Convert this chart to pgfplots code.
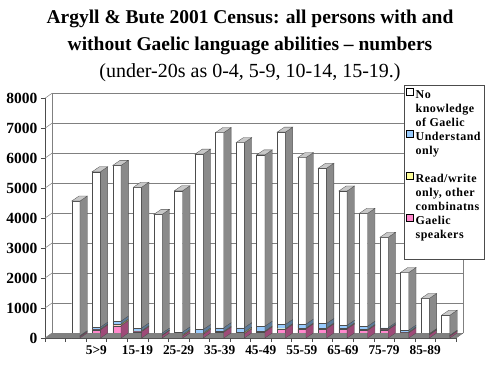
\documentclass[border=0pt]{standalone}
\usepackage{pgfplots}
\usepackage{pgfplotstable}
\pgfplotsset{compat=1.18}
\usepackage{fontspec}
\setmainfont{Liberation Serif}
\newfontfamily\legfont[LetterSpace=4]{Liberation Serif}
\definecolor{pinkF}{HTML}{FF88CC}
\definecolor{pinkS}{HTML}{9E4A78}
\definecolor{yelF}{HTML}{FFFF99}
\definecolor{yelS}{HTML}{99995C}
\definecolor{bluF}{HTML}{99CCFF}
\definecolor{bluS}{HTML}{5C7A99}
\definecolor{whtS}{HTML}{8A8A8A}
\definecolor{topG}{HTML}{C8C8C8}
\definecolor{floorG}{HTML}{808080}

\newcommand\sidepath{%
  \pgfmathsetlengthmacro\hh{\rawy*0.029963}%
  \pgfpathmoveto{\pgfpoint{4.15pt}{0pt}}%
  \pgfpathlineto{\pgfpoint{11.45pt}{5pt}}%
  \pgfpathlineto{\pgfpoint{11.45pt}{5pt-\hh}}%
  \pgfpathlineto{\pgfpoint{4.15pt}{-\hh}}%
  \pgfpathclose}
\pgfdeclareplotmark{side}{\sidepath\pgfusepath{fill,stroke}}
\pgfdeclareplotmark{sidetop}{\sidepath\pgfusepath{fill,stroke}%
  \pgfscope
  \pgfpathmoveto{\pgfpoint{-4.15pt}{0pt}}%
  \pgfpathlineto{\pgfpoint{4.15pt}{0pt}}%
  \pgfpathlineto{\pgfpoint{11.45pt}{5pt}}%
  \pgfpathlineto{\pgfpoint{3.15pt}{5pt}}%
  \pgfpathclose
  \pgfsetfillcolor{topG}\pgfusepath{fill,stroke}%
  \endpgfscope}

\pgfplotstableread{
x  gs   rw  un   nk
1  40   5   30   4495
2  270  30  60   5190
3  410  50  100  5200
4  210  30  90   4700
5  80   20  60   3965
6  70   40  90   4715
7  120  40  120  5855
8  190  30  120  6515
9  140  50  150  6180
10 200  30  160  5720
11 280  30  140  6420
12 300  30  130  5560
13 300  30  150  5185
14 300  30  90   4485
15 250  30  110  3770
16 270  20  50   3020
17 170  30  60   1925
18 100  20  20   1180
19 60   10  20   670
}\census

\begin{document}
\begin{tikzpicture}
\useasboundingbox (0,0) rectangle (500pt,375pt);
\node[font=\bfseries\fontsize{19.5}{24}\selectfont, anchor=base] at (250pt,351pt) {Argyll \& Bute 2001 Census: all persons with and};
\node[font=\bfseries\fontsize{19.5}{24}\selectfont, anchor=base] at (250pt,324pt) {without Gaelic language abilities – numbers};
\node[font=\fontsize{20}{24}\selectfont, anchor=base] at (250pt,297pt) {(under-20s as 0-4, 5-9, 10-14, 15-19.)};
\begin{axis}[
  at={(45pt,37pt)}, anchor=south west,
  x=20.55pt, y=0.029963pt,
  xmin=-0.5, xmax=19.5, ymin=0, ymax=8000,
  clip=false,
  ybar stacked, bar width=8.3pt,
  axis x line*=bottom, axis y line*=left,
  axis line style={black!70, line width=0.5pt, -},
  ytick={0,1000,...,8000},
  yticklabels={0,1000,2000,3000,4000,5000,6000,7000,8000},
  yticklabel style={font=\bfseries\fontsize{15.5}{16}\selectfont},
  xtick={2,4,...,18},
  xticklabels={5>9,15-19,25-29,35-39,45-49,55-59,65-69,75-79,85-89},
  xticklabel style={font=\bfseries\fontsize{13.3}{14}\selectfont},
  minor xtick={-0.5,0.5,...,19.5},
  major x tick style={draw=none},
  ymajorgrids,
  major grid style={draw=floorG, line width=0.5pt, xshift=7pt, yshift=5pt},
  tick align=outside,
  major tick length=4pt, minor tick length=4pt,
  tick style={black!70, line width=0.5pt},
  reverse legend,
  legend style={at={(axis description cs:0.8735,1.0555)}, anchor=north west,
    draw=black!70, fill=white, line width=0.5pt,
    font=\legfont\bfseries\fontsize{12}{14}\selectfont,
    inner xsep=2pt, inner ysep=3pt, row sep=0pt,
    cells={anchor=north west, align=left}},
  legend image code/.code={\draw[#1, draw=black, line width=0.4pt] (0pt,-7.5pt) rectangle (7pt,-0.5pt);},
]
\fill[floorG] (axis cs:-0.5,0) -- (axis cs:19.5,0) -- ([shift={(7pt,5pt)}]axis cs:19.5,0) -- ([shift={(7pt,5pt)}]axis cs:-0.5,0) -- cycle;
\draw[floorG!70!black, line width=0.5pt] ([shift={(7pt,5pt)}]axis cs:-0.5,0) -- ([shift={(7pt,5pt)}]axis cs:19.5,0);
\draw[floorG, line width=0.5pt] ([shift={(7pt,5pt)}]axis cs:-0.5,0) -- ([shift={(7pt,5pt)}]axis cs:-0.5,8000);
\draw[floorG, line width=0.5pt] ([shift={(7pt,5pt)}]axis cs:19.5,0) -- ([shift={(7pt,5pt)}]axis cs:19.5,8000);
\draw[black!70, line width=0.5pt] (axis cs:19.5,0) -- ([shift={(7pt,5pt)}]axis cs:19.5,0);
\pgfplotsinvokeforeach{0,1000,2000,3000,4000,5000,6000,7000,8000}{
  \draw[floorG, line width=0.5pt] (axis cs:-0.5,#1) -- ([shift={(7pt,5pt)}]axis cs:-0.5,#1);
}
\addplot[fill=pinkF, draw=black!70, line width=0.3pt, mark=side,
  mark options={fill=pinkS, draw=black!70, line width=0.3pt},
  visualization depends on=rawy\as\rawy] table[x=x,y=gs]{\census};
\addlegendentry{Gaelic\\speakers\\\mbox{}}
\addplot[fill=yelF, draw=black!70, line width=0.3pt, mark=side,
  mark options={fill=yelS, draw=black!70, line width=0.3pt},
  visualization depends on=rawy\as\rawy] table[x=x,y=rw]{\census};
\addlegendentry{Read/write\\only, other\\combinatns}
\addplot[fill=bluF, draw=black!70, line width=0.3pt, mark=side,
  mark options={fill=bluS, draw=black!70, line width=0.3pt},
  visualization depends on=rawy\as\rawy] table[x=x,y=un]{\census};
\addlegendentry{Understand\\only\\\mbox{}}
\addplot[fill=white, draw=black!70, line width=0.3pt, mark=sidetop,
  mark options={fill=whtS, draw=black!70, line width=0.3pt},
  visualization depends on=rawy\as\rawy] table[x=x,y=nk]{\census};
\addlegendentry{No\\knowledge\\of Gaelic}
\end{axis}
\end{tikzpicture}
\end{document}
